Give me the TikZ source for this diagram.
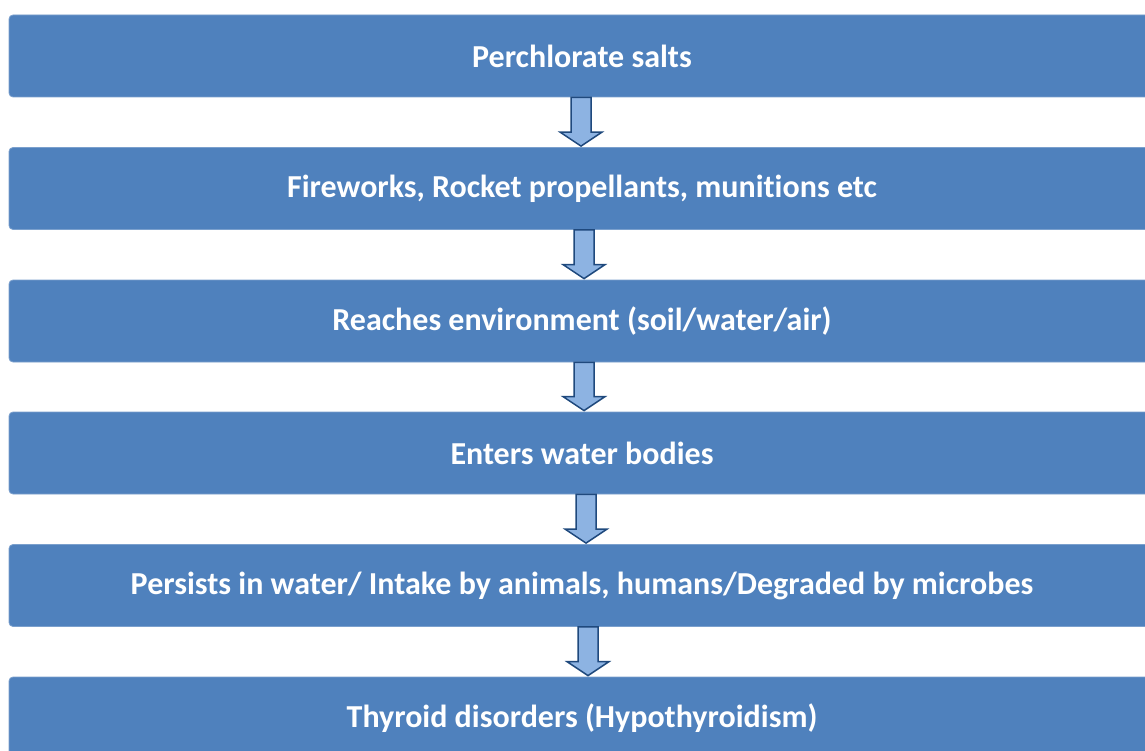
\documentclass[tikz,border=0pt]{standalone}
\usepackage{fontspec}
\setmainfont[Ligatures=NoCommon]{Carlito}
\usepackage{tikz}
\usetikzlibrary{calc}

\definecolor{boxblue}{HTML}{4F81BD}
\definecolor{arrowfill}{HTML}{8DB3E2}
\definecolor{arrowline}{HTML}{1F497D}

\tikzset{
	stage/.style={rectangle, rounded corners=4, fill=boxblue, draw=boxblue!75!white, line width=0.8,
		minimum width=1146, minimum height=82, text=white, font=\bfseries\fontsize{32}{36}\selectfont},
	blockarrow/.style={fill=arrowfill, draw=arrowline, line width=1.5, line join=miter}
}

\begin{document}
\begin{tikzpicture}[x=1pt, y=-1pt]

\clip (0,0) rectangle (1145,751);

\node[stage] (salts) at (582,56) {Perchlorate salts};
\node[stage] (uses) at (582,188.5) {Fireworks, Rocket propellants, munitions etc};
\node[stage] (environ) at (582,321) {Reaches environment (soil/water/air)};
\node[stage] (water) at (582,453) {Enters water bodies};
\node[stage] (persist) at (582,585.5) {Persists in water/ Intake by animals, humans/Degraded by microbes};
\node[stage] (thyroid) at (582,718) {Thyroid disorders (Hypothyroidism)};

% block arrows between the stages
\foreach \a/\b/\s in {salts/uses/-1, uses/environ/2, environ/water/2, water/persist/4, persist/thyroid/6}{

	\draw[blockarrow] ($(\a.south)+(\s-10,0)$) -- ($(\b.north)+(\s-10,-15)$) --
	($(\b.north)+(\s-21,-15)$) -- ($(\b.north)+(\s,-1)$) -- ($(\b.north)+(\s+21,-15)$) --
	($(\b.north)+(\s+10,-15)$) -- ($(\a.south)+(\s+10,0)$) -- cycle;

}

\end{tikzpicture}
\end{document}
